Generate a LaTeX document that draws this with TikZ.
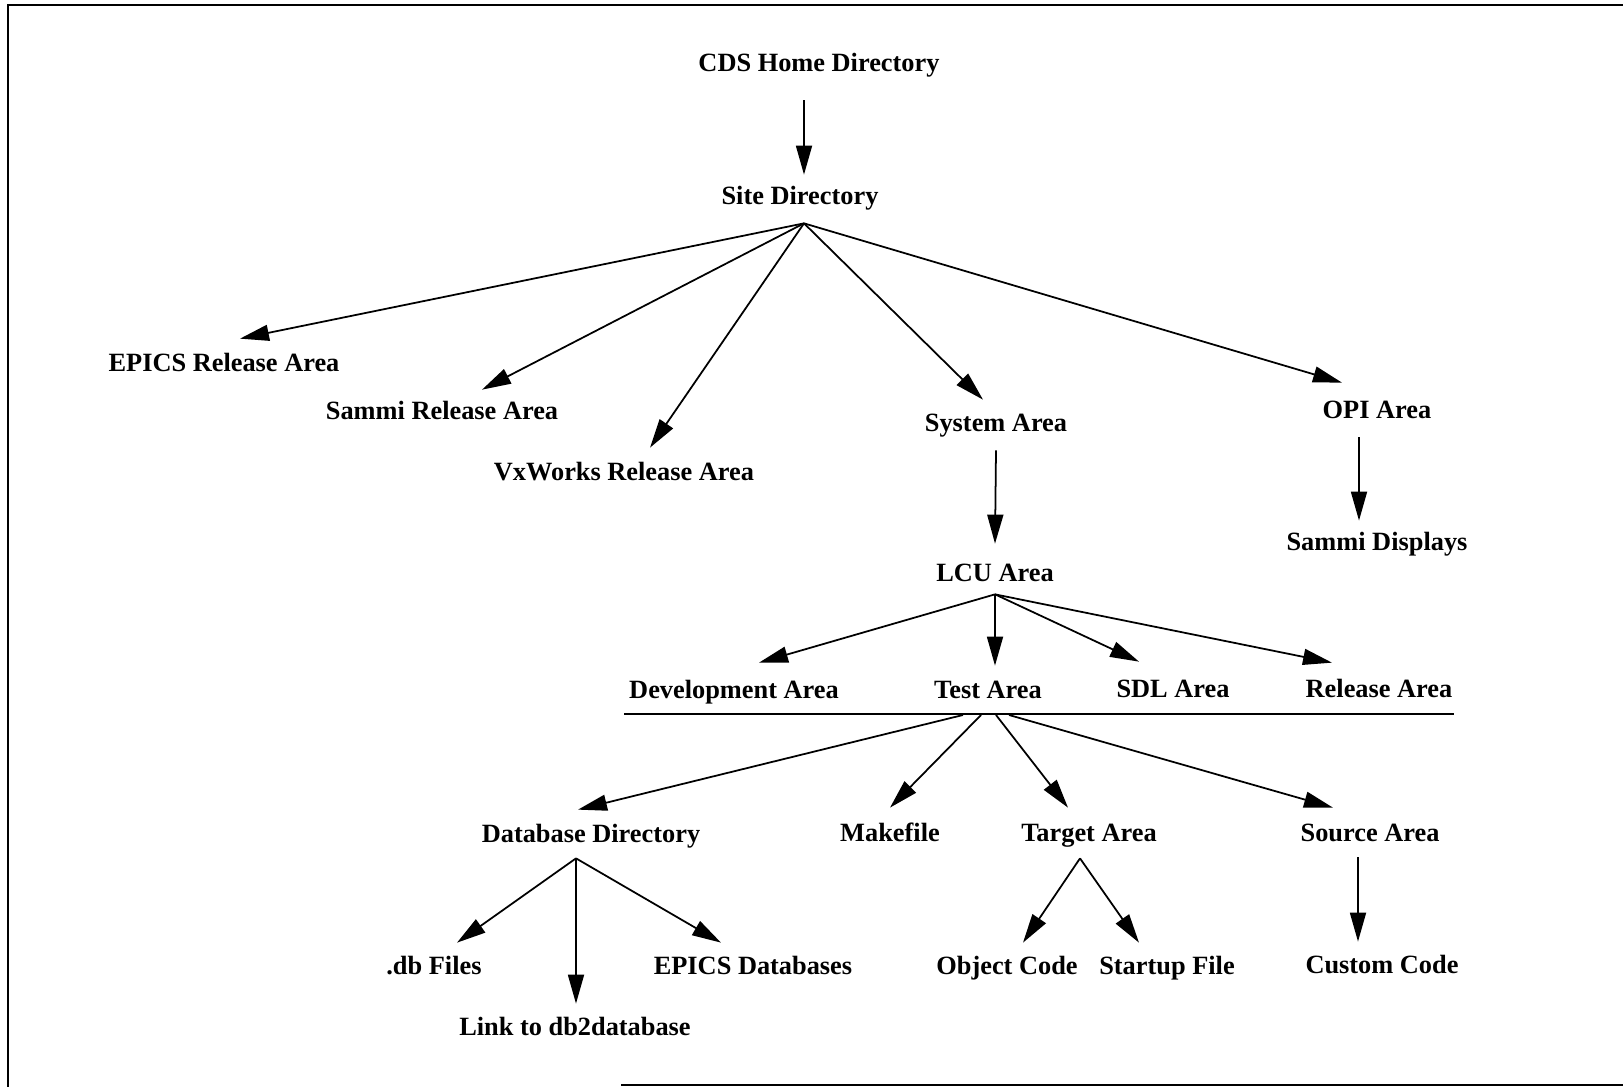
\documentclass[tikz,border=0pt]{standalone}
\usepackage{fontspec}
\setmainfont{Liberation Serif}
\usetikzlibrary{arrows.meta,calc}
\begin{document}
\begin{tikzpicture}[x=0.02cm,y=-0.02cm,
  lbl/.style={inner xsep=0pt,inner ysep=0.24cm,text height=0.36cm,text depth=0.12cm,font=\fontsize{15}{18}\selectfont\bfseries},
  arr/.style={draw,line width=1pt,-{Triangle[length=0.58cm,width=0.32cm]}}]
\useasboundingbox (0,0) rectangle (1623,1087);
\draw[line width=1.2pt] (1623,5) -- (8,5) -- (8,1087);
\draw[line width=1.2pt] (621,1085) -- (1623,1085);

\node[lbl] (cds) at (819,66) {CDS Home Directory};
\node[lbl] (site) at (800,199) {Site Directory};
\node[lbl] (epics) at (224,366) {EPICS Release Area};
\node[lbl] (sammi) at (442,414) {Sammi Release Area};
\node[lbl] (vxworks) at (624,475) {VxWorks Release Area};
\node[lbl] (system) at (996,426) {System Area};
\node[lbl] (opi) at (1377,413) {OPI Area};
\node[lbl] (sdisp) at (1377,545) {Sammi Displays};
\node[lbl] (lcu) at (995,576) {LCU Area};
\node[lbl] (dev) at (734,692) {Development Area};
\node[lbl] (test) at (988,692) {Test Area};
\node[lbl] (sdl) at (1173,691) {SDL Area};
\node[lbl] (rel) at (1379,691) {Release Area};
\coordinate (barL) at (624,714);
\coordinate (barR) at (1454,714);
\coordinate (hub) at (988,715);
\node[lbl] (dbdir) at (591,836) {Database Directory};
\node[lbl] (make) at (890,835) {Makefile};
\node[lbl] (target) at (1089,835) {Target Area};
\node[lbl] (source) at (1370,835) {Source Area};
\node[lbl] (dbf) at (434,968) {.db Files};
\node[lbl] (link) at (575,1029) {Link to db2database};
\node[lbl] (epicsdb) at (753,968) {EPICS Databases};
\node[lbl] (obj) at (1007,968) {Object Code};
\node[lbl] (startup) at (1167,968) {Startup File};
\node[lbl] (custom) at (1382,967) {Custom Code};

\path[arr] ($(cds.south)+(-15,10)$) -- ($(site.north)+(4,0)$);
\path[arr] ($(site.south)+(4,0)$) -- ($(epics.north)+(16,-3)$);
\path[arr] ($(site.south)+(4,0)$) -- ($(sammi.north)+(40,0)$);
\path[arr] ($(site.south)+(4,0)$) -- ($(vxworks.north)+(26,-3)$);
\path[arr] ($(site.south)+(4,0)$) -- ($(system.north)+(-13,-2)$);
\path[arr] ($(site.south)+(4,0)$) -- ($(opi.north)+(-35,-6)$);
\path[arr] (system.south) -- ($(lcu.north)+(0,-8)$);
\path[arr] ($(opi.south)+(-18,0)$) -- ($(sdisp.north)+(-18,0)$);
\path[arr] ($(lcu.south)+(0,-6)$) -- ($(dev.north)+(25,-5)$);
\path[arr] ($(lcu.south)+(0,-6)$) -- ($(test.north)+(7,-2)$);
\path[arr] ($(lcu.south)+(0,-6)$) -- ($(sdl.north)+(-34,-5)$);
\path[arr] ($(lcu.south)+(0,-6)$) -- ($(rel.north)+(-47,-4)$);
\path[draw,line width=1pt] (barL) -- (barR);
\path[arr] ($(hub)+(-25,0)$) -- ($(dbdir.north)+(-13,-2)$);
\path[arr] ($(hub)+(-7,0)$) -- ($(make.north)+(0,-3)$);
\path[arr] ($(hub)+(8,0)$) -- ($(target.north)+(-21,-3)$);
\path[arr] ($(hub)+(21,0)$) -- ($(source.north)+(-37,-3)$);
\path[arr] ($(dbdir.south)+(-15,-2)$) -- ($(dbf.north)+(23,-1)$);
\path[arr] ($(dbdir.south)+(-15,-2)$) -- ($(link.north)+(1,-1)$);
\path[arr] ($(dbdir.south)+(-15,-2)$) -- ($(epicsdb.north)+(-32,-1)$);
\path[arr] ($(target.south)+(-9,-1)$) -- ($(obj.north)+(16,-1)$);
\path[arr] ($(target.south)+(-9,-1)$) -- ($(startup.north)+(-28,-1)$);
\path[arr] ($(source.south)+(-12,-2)$) -- ($(custom.north)+(-24,-1)$);
\end{tikzpicture}
\end{document}
